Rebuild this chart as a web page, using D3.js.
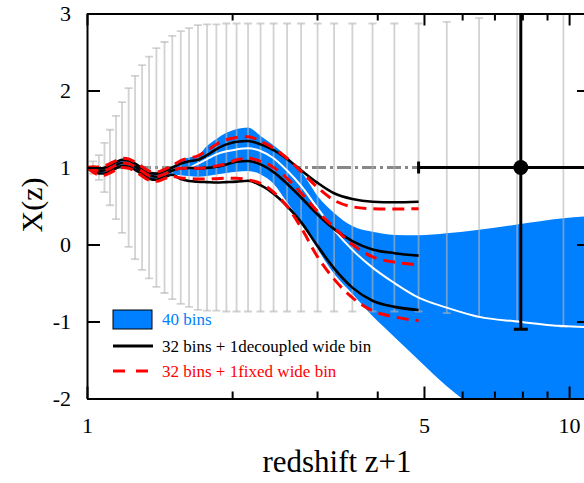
<!DOCTYPE html>
<html><head><meta charset="utf-8">
<script src="https://cdn.jsdelivr.net/npm/d3@7"></script>
<style>
html,body{margin:0;padding:0;background:#fff;}
svg{display:block;}
svg text{font-family:"Liberation Serif","Times New Roman",Times,serif !important;}
</style></head>
<body>
<svg id="chart" width="584" height="483"></svg>
<script>
// ---------- data ----------
const zGrid = [1.000,1.029,1.059,1.087,1.116,1.149,1.182,1.220,1.258,1.301,1.345,1.393,1.448,1.503,1.565,1.628,1.699,1.774,1.855,1.946,2.043,2.158,2.291,2.438,2.600,2.780,3.008,3.255,3.552,3.911,4.341,4.873];
const zBand = [1.000,1.029,1.059,1.087,1.116,1.149,1.182,1.220,1.258,1.301,1.345,1.393,1.448,1.503,1.565,1.628,1.699,1.774,1.855,1.946,2.043,2.158,2.291,2.438,2.600,2.780,3.008,3.255,3.552,3.911,4.341,4.873,5.576,6.506,7.802,9.732,11.05];

// 32 bins + 1 decoupled wide bin (black)
const blackMid = [1.00,0.975,0.955,0.96,0.99,1.03,1.06,1.05,1.01,0.95,0.895,0.88,0.915,0.96,0.99,0.995,0.99,0.995,1.01,1.04,1.075,1.085,1.04,0.94,0.79,0.61,0.39,0.20,0.045,-0.065,-0.113,-0.145];
const blackUp  = [1.00,0.995,0.987,0.998,1.03,1.07,1.10,1.09,1.05,0.99,0.935,0.92,0.955,1.0,1.05,1.08,1.10,1.16,1.24,1.30,1.335,1.345,1.30,1.225,1.11,0.965,0.80,0.665,0.59,0.555,0.548,0.556];
const blackLow = [1.00,0.955,0.923,0.922,0.95,0.99,1.02,1.01,0.97,0.91,0.855,0.84,0.875,0.905,0.85,0.825,0.815,0.81,0.805,0.81,0.816,0.828,0.77,0.66,0.50,0.29,-0.02,-0.31,-0.56,-0.73,-0.81,-0.85];

// 32 bins + 1 fixed wide bin (red dashed)
const redMid = [1.00,0.975,0.955,0.96,0.99,1.03,1.06,1.05,1.01,0.95,0.895,0.88,0.915,0.96,0.99,0.99,0.99,1.00,1.02,1.05,1.10,1.12,1.08,1.00,0.86,0.67,0.43,0.22,0.0,-0.16,-0.23,-0.265];
const redUp  = [1.00,1.01,1.005,1.02,1.05,1.09,1.12,1.11,1.07,1.01,0.955,0.94,0.975,1.025,1.09,1.12,1.15,1.22,1.30,1.36,1.39,1.40,1.34,1.25,1.12,0.95,0.74,0.575,0.49,0.465,0.46,0.465];
const redLow = [1.00,0.94,0.905,0.90,0.93,0.97,1.00,0.99,0.95,0.89,0.835,0.82,0.855,0.885,0.865,0.86,0.85,0.85,0.855,0.86,0.86,0.84,0.795,0.68,0.495,0.22,-0.16,-0.45,-0.69,-0.86,-0.94,-0.99];

// 40 bins (blue band + white mean)
const band40Up   = [1.00,0.995,0.987,0.998,1.03,1.07,1.10,1.09,1.05,0.99,0.935,0.92,0.955,1.01,1.10,1.13,1.16,1.28,1.37,1.45,1.50,1.52,1.41,1.29,1.14,0.95,0.63,0.41,0.24,0.165,0.125,0.12,0.145,0.19,0.26,0.34,0.37];
const band40Low  = [1.00,0.955,0.923,0.922,0.95,0.99,1.02,1.01,0.97,0.91,0.855,0.84,0.875,0.91,0.90,0.89,0.88,0.89,0.91,0.93,0.945,0.955,0.91,0.79,0.55,0.30,-0.06,-0.38,-0.64,-0.93,-1.20,-1.50,-1.84,-2.16,-2.40,-2.62,-2.72];
const band40Mean = [1.00,0.975,0.955,0.96,0.99,1.03,1.06,1.05,1.01,0.95,0.895,0.88,0.915,0.965,0.995,1.0,1.05,1.11,1.17,1.21,1.235,1.25,1.215,1.12,0.96,0.76,0.47,0.19,-0.07,-0.30,-0.50,-0.69,-0.82,-0.94,-1.0,-1.06,-1.075];

// prior error bars (grey), centred on X=1
const barZ   = [1.029,1.059,1.087,1.116,1.149,1.182,1.220,1.258,1.301,1.345,1.393,1.448,1.503,1.565,1.628,1.699,1.774,1.855,1.946,2.043,2.158,2.291,2.438,2.600,2.780,3.008,3.255,3.552,3.911,4.341,4.873,5.576,6.506,7.802,9.732];
const barErr = [0.08,0.16,0.32,0.49,0.67,0.85,1.03,1.19,1.33,1.44,1.55,1.63,1.71,1.77,1.81,1.85,1.86,1.86,1.87,1.87,1.87,1.87,1.87,1.87,1.87,1.87,1.87,1.87,1.87,1.87,1.87,1.89,1.94,2.00,2.07];
const barCenter = 1.0;

// wide bin point (black)
const wideZ = [7.94], wideX = [1.0], wideErrLow = [2.1], wideErrHigh = [2.1], wideZLow = [4.873], wideZHigh = [12.5];

const xMajor = [1,5,10], xMinor = [2,3,4,6,7,8,9], yTicks = [-2,-1,0,1,2,3];
const legendLabels = ["40 bins","32 bins + 1decoupled wide bin","32 bins + 1fixed wide bin"];

// ---------- drawing ----------
const FONT = '"Liberation Serif","Times New Roman",Times,serif';
const svg = d3.select("#chart").attr("font-family", FONT);
const L = 87, R = 590, T = 13.5, B = 398.5;
const x = d3.scaleLog().domain([1, 11.05]).range([L, R]);
const y = d3.scaleLinear().domain([-2, 3]).range([B, T]);
const BLUE = "#0080ff";

svg.append("defs").append("clipPath").attr("id","clip")
  .append("rect").attr("x",L).attr("y",T).attr("width",R-L).attr("height",B-T);
const plot = svg.append("g").attr("clip-path","url(#clip)");

// grey dash-dot reference line
plot.append("line")
  .attr("x1", x(1)).attr("x2", x(wideZLow[0])).attr("y1", y(1)).attr("y2", y(1))
  .attr("stroke","#888").attr("stroke-width",3).attr("stroke-dasharray","14,4,3,4");

// blue band
const bandData = zBand.map((z,i)=>({z, lo: band40Low[i], hi: band40Up[i], m: band40Mean[i]}));
plot.append("path").datum(bandData)
  .attr("d", d3.area().x(d=>x(d.z)).y0(d=>y(d.lo)).y1(d=>y(d.hi)).curve(d3.curveMonotoneX))
  .attr("fill", BLUE);

// grey error bars
const bars = plot.append("g").attr("stroke","#b4b4b4").attr("stroke-opacity",0.6).attr("stroke-width",1.8);
const barData = barZ.map((z,i)=>({z, e: barErr[i]}));
bars.selectAll("line.v").data(barData).join("line").attr("class","v")
  .attr("x1",d=>x(d.z)).attr("x2",d=>x(d.z))
  .attr("y1",d=>y(barCenter+d.e)).attr("y2",d=>y(barCenter-d.e));
bars.selectAll("line.t").data(barData).join("line").attr("class","t")
  .attr("x1",d=>x(d.z)-4).attr("x2",d=>x(d.z)+4)
  .attr("y1",d=>y(barCenter+d.e)).attr("y2",d=>y(barCenter+d.e));
bars.selectAll("line.b").data(barData).join("line").attr("class","b")
  .attr("x1",d=>x(d.z)-4).attr("x2",d=>x(d.z)+4)
  .attr("y1",d=>y(barCenter-d.e)).attr("y2",d=>y(barCenter-d.e));

// white mean line of 40 bins
plot.append("path").datum(bandData)
  .attr("d", d3.line().x(d=>x(d.z)).y(d=>y(d.m)).curve(d3.curveMonotoneX))
  .attr("fill","none").attr("stroke","#fff").attr("stroke-width",2);

const lineGen = d3.line().x(d=>x(d[0])).y(d=>y(d[1])).curve(d3.curveMonotoneX);
[blackUp, blackMid, blackLow].forEach(arr=>{
  plot.append("path").datum(zGrid.map((z,i)=>[z,arr[i]]))
    .attr("d", lineGen).attr("fill","none").attr("stroke","#000").attr("stroke-width",2.6);
});
[redUp, redMid, redLow].forEach(arr=>{
  plot.append("path").datum(zGrid.map((z,i)=>[z,arr[i]]))
    .attr("d", lineGen).attr("fill","none").attr("stroke","#ff0000").attr("stroke-width",3)
    .attr("stroke-dasharray","12,7");
});

// wide bin point with error bars
const wp = plot.append("g").attr("stroke","#000").attr("stroke-width",3);
wp.append("line").attr("x1",x(wideZLow[0])).attr("x2",x(wideZHigh[0])).attr("y1",y(wideX[0])).attr("y2",y(wideX[0]));
wp.append("line").attr("x1",x(wideZLow[0])).attr("x2",x(wideZLow[0])).attr("y1",y(wideX[0])-6).attr("y2",y(wideX[0])+6);
wp.append("line").attr("x1",x(wideZ[0])).attr("x2",x(wideZ[0])).attr("y1",y(wideX[0]+wideErrHigh[0])).attr("y2",y(wideX[0]-wideErrLow[0]));
wp.append("line").attr("x1",x(wideZ[0])-7).attr("x2",x(wideZ[0])+7).attr("y1",y(wideX[0]-wideErrLow[0])).attr("y2",y(wideX[0]-wideErrLow[0]));
plot.append("circle").attr("cx",x(wideZ[0])).attr("cy",y(wideX[0])).attr("r",7.5).attr("fill","#000");

// ---------- axes ----------
const fmt = d=>String(d);
function styleAxis(g, fs){
  g.attr("font-family",FONT).attr("font-size",fs);
  g.selectAll(".domain").attr("stroke","#000").attr("stroke-width",2);
  g.selectAll(".tick line").attr("stroke","#000").attr("stroke-width",2);
  g.selectAll(".tick text").attr("fill","#000").attr("font-family",FONT);
}
const gb = svg.append("g").attr("transform",`translate(0,${B})`)
  .call(d3.axisBottom(x).tickValues(xMajor).tickSizeInner(-12).tickSizeOuter(0).tickPadding(19).tickFormat(fmt));
styleAxis(gb, 22);
const gbm = svg.append("g").attr("transform",`translate(0,${B})`)
  .call(d3.axisBottom(x).tickValues(xMinor).tickSizeInner(-7).tickSizeOuter(0).tickFormat(""));
styleAxis(gbm, 22);
const gt = svg.append("g").attr("transform",`translate(0,${T})`)
  .call(d3.axisTop(x).tickValues(xMajor).tickSizeInner(-12).tickSizeOuter(0).tickFormat(""));
styleAxis(gt, 22);
const gtm = svg.append("g").attr("transform",`translate(0,${T})`)
  .call(d3.axisTop(x).tickValues(xMinor).tickSizeInner(-7).tickSizeOuter(0).tickFormat(""));
styleAxis(gtm, 22);
const gl = svg.append("g").attr("transform",`translate(${L},0)`)
  .call(d3.axisLeft(y).tickValues(yTicks).tickSizeInner(-13).tickSizeOuter(0).tickPadding(16).tickFormat(fmt));
styleAxis(gl, 22);
const gr = svg.append("g").attr("transform",`translate(${R},0)`)
  .call(d3.axisRight(y).tickValues(yTicks).tickSizeInner(-13).tickSizeOuter(0).tickFormat(""));
styleAxis(gr, 22);

// axis titles
svg.append("text").attr("x",337).attr("y",472).attr("text-anchor","middle").attr("font-family",FONT)
  .attr("font-size",31).attr("fill","#000").text("redshift z+1");
svg.append("text").attr("transform","translate(42,205) rotate(-90)").attr("text-anchor","middle").attr("font-family",FONT)
  .attr("font-size",30).attr("fill","#000").text("X(z)");

// ---------- legend ----------
const lg = svg.append("g").attr("font-family",FONT);
lg.append("rect").attr("x",113).attr("y",310).attr("width",39).attr("height",19)
  .attr("fill",BLUE).attr("stroke","#000").attr("stroke-width",1);
lg.append("text").attr("x",162).attr("y",325).attr("font-size",17).attr("fill",BLUE).text(legendLabels[0]);
lg.append("line").attr("x1",113).attr("x2",153).attr("y1",346).attr("y2",346).attr("stroke","#000").attr("stroke-width",3);
lg.append("text").attr("x",162).attr("y",352).attr("font-size",17).attr("fill","#000").text(legendLabels[1]);
lg.append("line").attr("x1",113).attr("x2",148).attr("y1",371).attr("y2",371).attr("stroke","#ff0000").attr("stroke-width",3).attr("stroke-dasharray","12,11");
lg.append("text").attr("x",162).attr("y",377).attr("font-size",17).attr("fill","#ff0000").text(legendLabels[2]);
</script>
</body></html>
